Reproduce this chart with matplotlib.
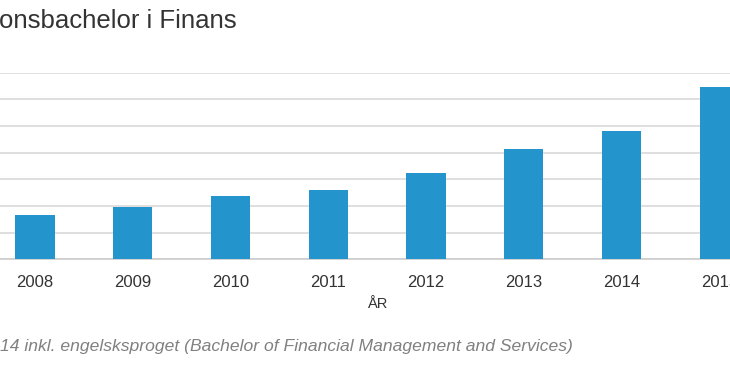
import matplotlib
matplotlib.use("Agg")
import matplotlib.pyplot as plt

plt.rcParams['font.family'] = ['Liberation Sans', 'DejaVu Sans']

years = ["2008", "2009", "2010", "2011", "2012", "2013", "2014", "2015"]
values = [83, 99, 118, 130, 161, 206, 240, 323]
yticks = [0, 50, 100, 150, 200, 250, 300, 350]

title = "onsbachelor i Finans"
xlabel = "ÅR"
footnote = "14 inkl. engelsksproget (Bachelor of Financial Management and Services)"

W, H = 730, 365
fig = plt.figure(figsize=(W / 100, H / 100), dpi=100)
fig.patch.set_facecolor("white")

bottom = 1 - 259.3 / H
top = 1 - 72.7 / H
ax = fig.add_axes([0, bottom, 1, top - bottom])

x = list(range(len(years)))
ax.bar(x, values, width=0.4, color="#2394cc", zorder=3)

spacing = 97.75
x0 = -35 / spacing
ax.set_xlim(x0, x0 + W / spacing)
ax.set_ylim(0, 350)
ax.set_yticks(yticks)
ax.yaxis.grid(True, color="#d9d9d9", linewidth=1.2, zorder=0)
ax.tick_params(axis="y", left=False, labelleft=False)
ax.set_xticks(x)
ax.set_xticklabels(years, fontsize=12, color="#333333")
ax.tick_params(axis="x", length=0, pad=11.5)
for s in ["left", "right", "top"]:
    ax.spines[s].set_visible(False)
ax.spines["bottom"].set_color("#cccccc")
ax.spines["bottom"].set_linewidth(1.2)

fig.text(-1 / W, 1 - 28 / H, title, fontsize=18.5, color="#333333",
         ha="left", va="baseline")
fig.text(377 / W, 1 - 304 / H, xlabel, fontsize=10.5, color="#333333",
         ha="center", va="center")
fig.text(0, 1 - 351 / H, footnote, fontsize=12.6, color="#808080",
         style="italic", ha="left", va="baseline")

fig.savefig("out.png", dpi=100, facecolor="white")
